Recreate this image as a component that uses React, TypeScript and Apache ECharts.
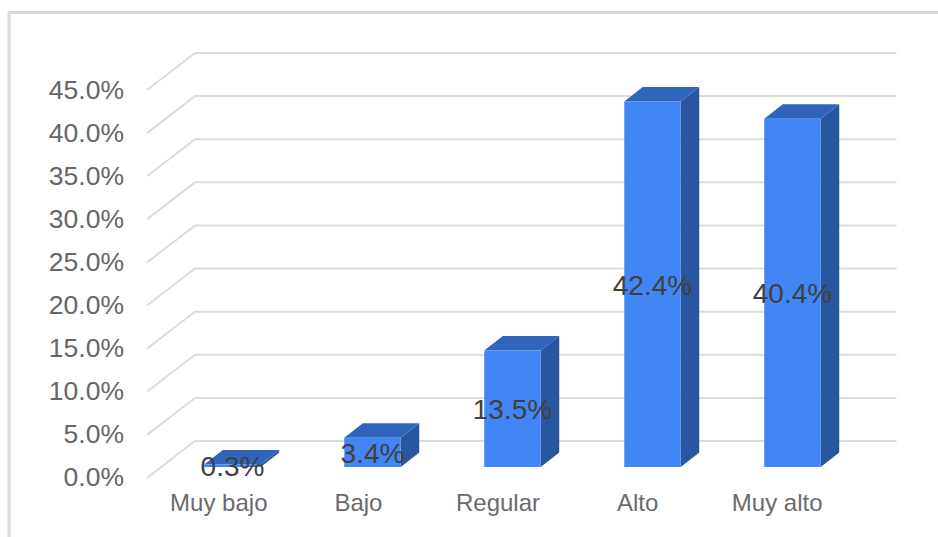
import React, { useEffect, useRef } from "react";
import * as echarts from "echarts";

const categories = ["Muy bajo", "Bajo", "Regular", "Alto", "Muy alto"];
const percentages = [0.3, 3.4, 13.5, 42.4, 40.4];
const gridTicks = [0, 5, 10, 15, 20, 25, 30, 35, 40, 45];

const FONT = '"Liberation Sans", Arial, sans-serif';
// Oblique projection of the 3D box: how far each depth layer shifts in pixels.
const WALL_DEPTH = { dx: 48, dy: -37 };
const WALL_OVERHANG = 1.5;
const BAR_PLANE = { dx: 15.5, dy: -11 };
const BAR_DEPTH = { dx: 18.5, dy: -14.5 };
const BAR_WIDTH = 56.5;

const renderGridLine = (params: any, api: any) => {
  const cs = params.coordSys;
  const y = api.coord([0, api.value(1)])[1];
  return {
    type: "polyline",
    silent: true,
    shape: {
      points: [
        [cs.x, y],
        [cs.x + WALL_DEPTH.dx, y + WALL_DEPTH.dy],
        [cs.x + cs.width + WALL_DEPTH.dx + WALL_OVERHANG, y + WALL_DEPTH.dy],
      ],
    },
    style: { stroke: "#dcdcdc", lineWidth: 2, fill: "none" },
  };
};

const renderBar = (_params: any, api: any) => {
  const value = api.value(1);
  const top = api.coord([api.value(0), value]);
  const base = api.coord([api.value(0), 0]);
  const left = top[0] + BAR_PLANE.dx - BAR_WIDTH / 2;
  const right = left + BAR_WIDTH;
  const yTop = top[1] + BAR_PLANE.dy;
  const yBase = base[1] + BAR_PLANE.dy;
  const { dx, dy } = BAR_DEPTH;
  return {
    type: "group",
    children: [
      {
        type: "polygon",
        shape: { points: [[left, yTop], [left + dx, yTop + dy], [right + dx, yTop + dy], [right, yTop]] },
        style: { fill: "#2f66bc" },
      },
      {
        type: "polygon",
        shape: { points: [[right, yTop], [right + dx, yTop + dy], [right + dx, yBase + dy], [right, yBase]] },
        style: { fill: "#28569f" },
      },
      {
        type: "rect",
        shape: { x: left, y: yTop, width: BAR_WIDTH, height: yBase - yTop },
        style: { fill: "#4285f4" },
      },
      {
        type: "text",
        z2: 10,
        style: {
          text: value.toFixed(1) + "%",
          x: (left + right) / 2,
          y: (yTop + yBase) / 2 + 1,
          textAlign: "center",
          textVerticalAlign: "middle",
          fill: "#404040",
          font: `28px ${FONT}`,
        },
      },
    ],
  };
};

export default function App() {
  const ref = useRef<HTMLDivElement>(null);

  useEffect(() => {
    const chart = echarts.init(ref.current!, null, { renderer: "svg" });
    chart.setOption({
      animation: false,
      backgroundColor: "#ffffff",
      graphic: [
        {
          type: "rect",
          silent: true,
          shape: { x: 9, y: 12.5, width: 1000, height: 600 },
          style: { fill: "none", stroke: "#d9d9d9", lineWidth: 3 },
        },
      ],
      // First grid holds the box and bars; second one only spaces the axis labels.
      grid: [
        { left: 147, right: 91, top: 90, bottom: 59 },
        { left: 149, right: 91, top: 90, bottom: 60.5 },
      ],
      xAxis: [
        {
          type: "category",
          data: categories,
          axisLine: { show: false },
          axisTick: { show: false },
          axisLabel: { show: false },
        },
        {
          type: "category",
          gridIndex: 1,
          data: categories,
          axisLine: { show: false },
          axisTick: { show: false },
          axisLabel: { color: "#6b6b6b", fontFamily: FONT, fontSize: 24, margin: 13.5 },
        },
      ],
      yAxis: [
        {
          type: "value",
          min: 0,
          max: 45,
          interval: 5,
          axisLine: { show: false },
          axisTick: { show: false },
          splitLine: { show: false },
          axisLabel: { show: false },
        },
        {
          type: "value",
          gridIndex: 1,
          min: 0,
          max: 45,
          interval: 5,
          axisLine: { show: false },
          axisTick: { show: false },
          splitLine: { show: false },
          axisLabel: {
            color: "#666666",
            fontFamily: FONT,
            fontSize: 26.5,
            margin: 25,
            formatter: (v: number) => v.toFixed(1) + "%",
          },
        },
      ],
      series: [
        {
          type: "custom",
          name: "grid",
          silent: true,
          renderItem: renderGridLine,
          encode: { x: 0, y: 1 },
          data: gridTicks.map((t) => [0, t]),
          z: 1,
        },
        {
          type: "custom",
          name: "Porcentaje",
          renderItem: renderBar,
          encode: { x: 0, y: 1 },
          data: percentages.map((p, i) => [i, p]),
          z: 2,
        },
      ],
    });
    return () => chart.dispose();
  }, []);

  return (
    <div
      ref={ref}
      style={{ position: "fixed", left: 0, top: 0, width: 938, height: 537 }}
    />
  );
}
